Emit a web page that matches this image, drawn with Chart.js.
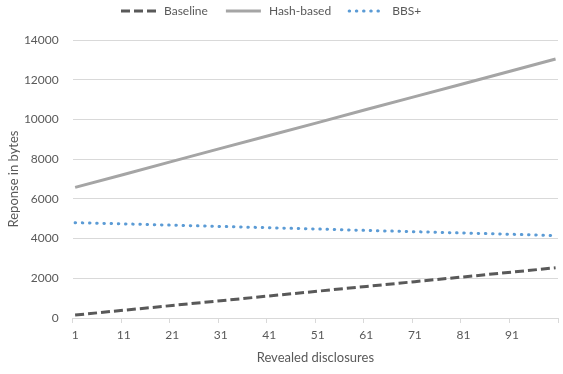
<!DOCTYPE html>
<html>
<head>
<meta charset="utf-8">
<script src="https://cdn.jsdelivr.net/npm/chart.js@4.4.1/dist/chart.umd.min.js"></script>
<style>
  html, body { margin: 0; padding: 0; background: #ffffff; }
  #wrap { width: 563px; height: 374px; }
</style>
</head>
<body>
<div id="wrap"><canvas id="c" width="563" height="374"></canvas></div>
<script>
const disclosures = [1, 11, 21, 31, 41, 51, 61, 71, 81, 91, 100];
// Response size in bytes
const baseline  = [150, 390, 630, 870, 1110, 1350, 1590, 1830, 2070, 2310, 2530];
const hashBased = [6580, 7230, 7890, 8540, 9190, 9840, 10500, 11150, 11800, 12450, 13040];
const bbsPlus   = [4800, 4740, 4675, 4610, 4545, 4480, 4410, 4345, 4280, 4215, 4150];
// Axis tick labels
const xTickLabels = [1, 11, 21, 31, 41, 51, 61, 71, 81, 91];
const yTickLabels = [0, 2000, 4000, 6000, 8000, 10000, 12000, 14000];

const TEXT = '#595959';
const GRID = '#D9D9D9';
const FONT = 'Lato, "Open Sans", sans-serif';

function pts(vals) { return vals.map((v, i) => ({ x: disclosures[i], y: v })); }

// Legend drawn from the datasets' own styles (Excel-like: line sample + label)
const lineLegend = {
  id: 'lineLegend',
  afterDraw(chart) {
    const ctx = chart.ctx;
    const sample = 35, gapText = 8, gapItem = 18, yMid = 11;
    let x = 121;
    ctx.save();
    ctx.font = '12px ' + FONT;
    ctx.textBaseline = 'middle';
    ctx.textAlign = 'left';
    chart.data.datasets.forEach(ds => {
      ctx.beginPath();
      ctx.strokeStyle = ds.borderColor;
      ctx.lineWidth = ds.borderWidth;
      ctx.lineCap = ds.borderCapStyle || 'butt';
      ctx.setLineDash(ds.borderDash || []);
      ctx.moveTo(x, yMid);
      ctx.lineTo(x + sample, yMid);
      ctx.stroke();
      ctx.setLineDash([]);
      x += sample + gapText;
      ctx.fillStyle = TEXT;
      ctx.fillText(ds.label, x, yMid);
      x += ctx.measureText(ds.label).width + gapItem;
    });
    ctx.restore();
  }
};

new Chart(document.getElementById('c'), {
  type: 'line',
  data: {
    datasets: [
      { label: 'Baseline', data: pts(baseline), borderColor: '#595959', backgroundColor: '#595959',
        borderWidth: 3, borderDash: [9, 4], borderCapStyle: 'butt', pointRadius: 0, tension: 0, fill: false },
      { label: 'Hash-based', data: pts(hashBased), borderColor: '#A5A5A5', backgroundColor: '#A5A5A5',
        borderWidth: 3, pointRadius: 0, tension: 0, fill: false },
      { label: 'BBS+', data: pts(bbsPlus), borderColor: '#5B9BD5', backgroundColor: '#5B9BD5',
        borderWidth: 3, borderDash: [0.5, 6.7], borderCapStyle: 'round', pointRadius: 0, tension: 0, fill: false }
    ]
  },
  plugins: [lineLegend],
  options: {
    responsive: false,
    animation: false,
    devicePixelRatio: 1,
    layout: { padding: { top: 40, left: 0, right: 0.3, bottom: 0 } },
    plugins: {
      tooltip: { enabled: false },
      legend: { display: false }
    },
    scales: {
      x: {
        type: 'linear',
        min: 0.5,
        max: 100.5,
        afterBuildTicks: (s) => {
          const t = xTickLabels.map(v => ({ value: v - 0.5 }));
          t.push({ value: 100.5 });
          s.ticks = t;
        },
        afterFit: (s) => { s.height = 56; },
        grid: { drawOnChartArea: false, drawTicks: true, tickLength: 5, color: GRID, lineWidth: 1 },
        border: { display: true, color: GRID, width: 1 },
        ticks: {
          autoSkip: false,
          maxRotation: 0,
          labelOffset: 2.45,
          padding: 5,
          color: TEXT,
          font: { family: FONT, size: 12 },
          callback: (v) => { const l = v + 0.5; return xTickLabels.includes(l) ? String(l) : ''; }
        },
        title: { display: true, text: 'Revealed disclosures', color: TEXT,
          font: { family: FONT, size: 13 }, padding: { top: 4, bottom: 8 } }
      },
      y: {
        min: 0,
        max: 14000,
        afterBuildTicks: (s) => { s.ticks = yTickLabels.map(v => ({ value: v })); },
        afterFit: (s) => { s.width = 72.7; },
        grid: { color: GRID, lineWidth: 1, drawTicks: false },
        border: { display: false },
        ticks: { padding: 14, color: TEXT, font: { family: FONT, size: 12 },
          callback: (v) => String(v) },
        title: { display: true, text: 'Reponse in bytes', color: TEXT,
          font: { family: FONT, size: 13 }, padding: { top: 6, bottom: 4 } }
      }
    }
  }
});
</script>
</body>
</html>
